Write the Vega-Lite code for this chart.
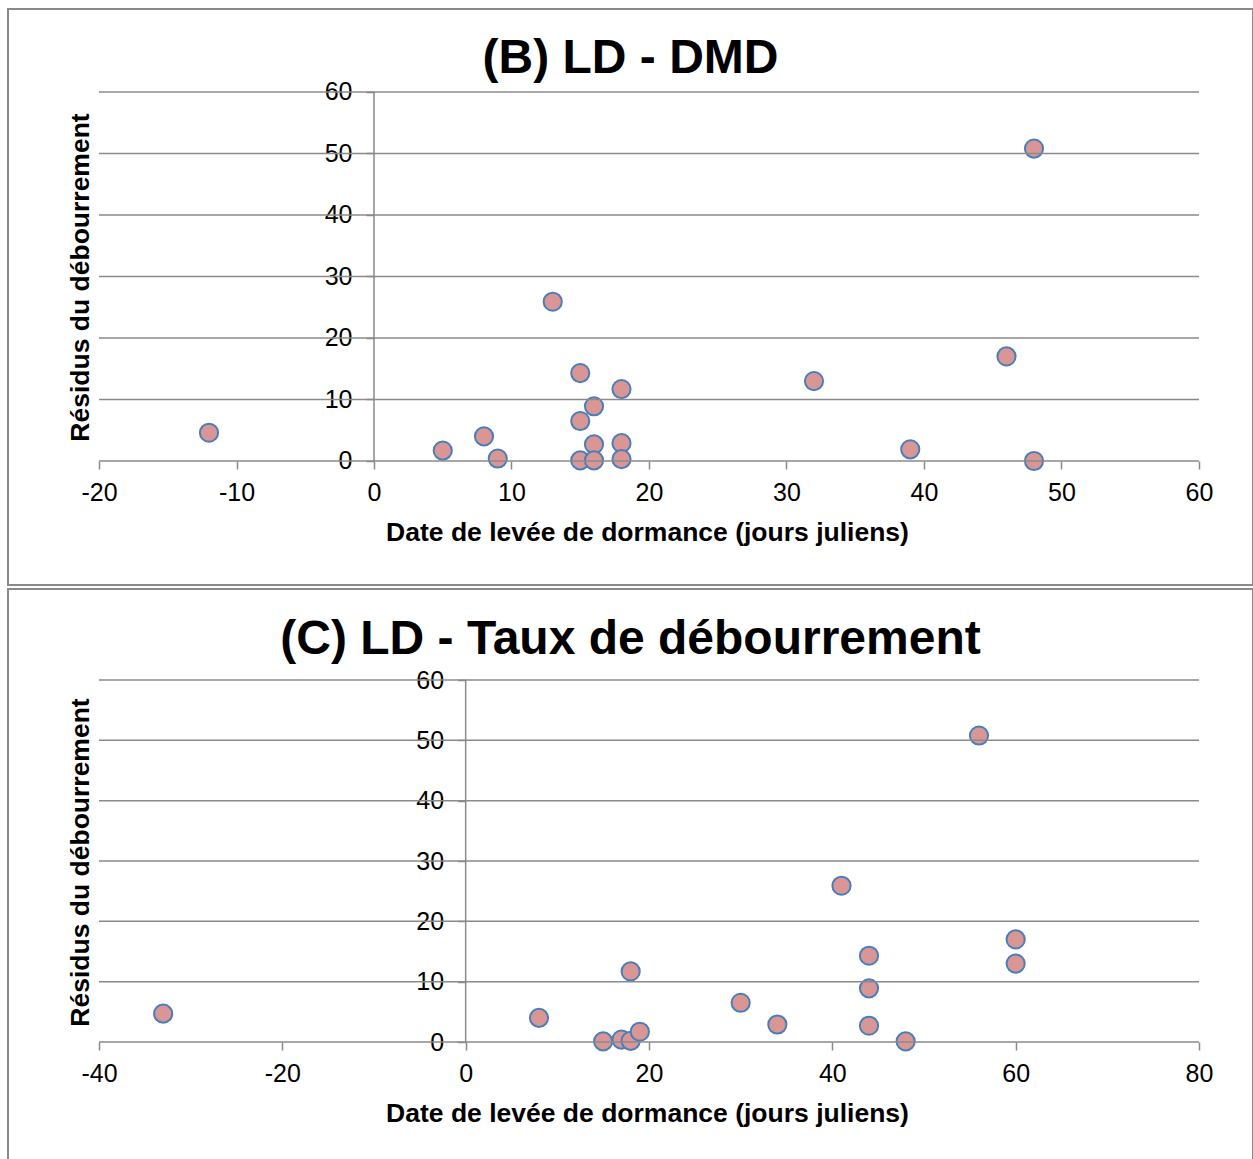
{
  "$schema": "https://vega.github.io/schema/vega-lite/v6.json",
  "background": "white",
  "padding": {"left": 7, "top": 8, "right": 0, "bottom": 0},
  "spacing": 2,
  "config": {
    "font": "Liberation Sans",
    "view": {"stroke": "#8a8a8a", "strokeWidth": 2},
    "axis": {
      "labelFont": "Liberation Sans",
      "titleFont": "Liberation Sans",
      "labelColor": "black",
      "titleColor": "black",
      "labelFontSize": 25,
      "titleFontSize": 26.5,
      "titleFontWeight": "bold",
      "tickColor": "#8a8a8a",
      "tickWidth": 1.5,
      "tickSize": 8,
      "domain": false,
      "grid": false,
      "labelFlush": false,
      "labelOverlap": false,
      "labelBound": false
    },
    "title": {"font": "Liberation Sans", "fontWeight": "bold", "color": "black"}
  },
  "datasets": {
    "grille": [{"v": 0}, {"v": 10}, {"v": 20}, {"v": 30}, {"v": 40}, {"v": 50}, {"v": 60}],
    "ldDmd": [
      {"date": -12, "residu": 4.6},
      {"date": 5, "residu": 1.7},
      {"date": 8, "residu": 4.0},
      {"date": 9, "residu": 0.4},
      {"date": 13, "residu": 25.9},
      {"date": 15, "residu": 14.3},
      {"date": 15, "residu": 6.5},
      {"date": 15, "residu": 0.1},
      {"date": 16, "residu": 8.9},
      {"date": 16, "residu": 2.7},
      {"date": 16, "residu": 0.1},
      {"date": 18, "residu": 11.7},
      {"date": 18, "residu": 2.9},
      {"date": 18, "residu": 0.3},
      {"date": 32, "residu": 13.0},
      {"date": 39, "residu": 1.9},
      {"date": 46, "residu": 17.0},
      {"date": 48, "residu": 50.8},
      {"date": 48, "residu": 0.0}
    ],
    "ldTaux": [
      {"date": -33, "residu": 4.7},
      {"date": 8, "residu": 4.0},
      {"date": 15, "residu": 0.1},
      {"date": 17, "residu": 0.4},
      {"date": 18, "residu": 11.7},
      {"date": 18, "residu": 0.2},
      {"date": 19, "residu": 1.7},
      {"date": 30, "residu": 6.5},
      {"date": 34, "residu": 2.9},
      {"date": 41, "residu": 25.9},
      {"date": 44, "residu": 14.3},
      {"date": 44, "residu": 8.9},
      {"date": 44, "residu": 2.7},
      {"date": 48, "residu": 0.1},
      {"date": 56, "residu": 50.8},
      {"date": 60, "residu": 17.0},
      {"date": 60, "residu": 13.0}
    ]
  },
  "vconcat": [
    {
      "width": 1245,
      "height": 576,
      "title": {"text": "(B) LD - DMD", "fontSize": 48, "anchor": "middle", "frame": "group", "baseline": "alphabetic", "offset": -112},
      "layer": [
        {
          "data": {"name": "ldDmd"},
          "mark": {"type": "circle", "size": 330, "fill": "#d99694", "fillOpacity": 1, "stroke": "#4a7ebb", "strokeWidth": 2, "opacity": 1},
          "encoding": {
            "x": {
              "field": "date", "type": "quantitative",
              "scale": {"domain": [-26.6182, 63.9273], "nice": false, "zero": false},
              "axis": {
                "title": "Date de levée de dormance (jours juliens)",
                "values": [-20, -10, 0, 10, 20, 30, 40, 50, 60],
                "labelExpr": "'' + datum.value",
                "offset": -124,
                "labelPadding": 11,
                "titleX": 639, "titleY": 79, "titleAlign": "center", "titleBaseline": "alphabetic"
              }
            },
            "y": {
              "field": "residu", "type": "quantitative",
              "scale": {"domain": [-20.1626, 73.4959], "nice": false, "zero": false},
              "axis": {
                "title": "Résidus du débourrement",
                "values": [0, 10, 20, 30, 40, 50, 60],
                "offset": -366,
                "labelPadding": 14,
                "titleAngle": -90,
                "titleX": -286, "titleY": 268, "titleAlign": "center", "titleBaseline": "alphabetic"
              }
            }
          }
        },
        {
          "data": {"name": "grille"},
          "mark": {"type": "rule", "color": "#8a8a8a", "strokeWidth": 1.5, "zindex": -1},
          "encoding": {
            "y": {"field": "v", "type": "quantitative"},
            "x": {"datum": -20, "type": "quantitative"},
            "x2": {"datum": 60}
          }
        },
        {
          "data": {"values": [{}]},
          "mark": {"type": "rule", "color": "#8a8a8a", "strokeWidth": 1.5, "zindex": -1},
          "encoding": {
            "x": {"datum": 0, "type": "quantitative"},
            "y": {"datum": 0, "type": "quantitative"},
            "y2": {"datum": 60}
          }
        }
      ]
    },
    {
      "width": 1245,
      "height": 571,
      "title": {"text": "(C) LD - Taux de débourrement", "fontSize": 48, "anchor": "middle", "frame": "group", "baseline": "alphabetic", "offset": -113},
      "layer": [
        {
          "data": {"name": "ldTaux"},
          "mark": {"type": "circle", "size": 330, "fill": "#d99694", "fillOpacity": 1, "stroke": "#4a7ebb", "strokeWidth": 2, "opacity": 1},
          "encoding": {
            "x": {
              "field": "date", "type": "quantitative",
              "scale": {"domain": [-49.927, 85.891], "nice": false, "zero": false},
              "axis": {
                "title": "Date de levée de dormance (jours juliens)",
                "values": [-40, -20, 0, 20, 40, 60, 80],
                "labelExpr": "'' + datum.value",
                "offset": -118,
                "labelPadding": 11,
                "titleX": 639, "titleY": 79, "titleAlign": "center", "titleBaseline": "alphabetic"
              }
            },
            "y": {
              "field": "residu", "type": "quantitative",
              "scale": {"domain": [-19.558, 75.083], "nice": false, "zero": false},
              "axis": {
                "title": "Résidus du débourrement",
                "values": [0, 10, 20, 30, 40, 50, 60],
                "offset": -457.67,
                "labelPadding": 14,
                "titleAngle": -90,
                "titleX": -377.67, "titleY": 273, "titleAlign": "center", "titleBaseline": "alphabetic"
              }
            }
          }
        },
        {
          "data": {"name": "grille"},
          "mark": {"type": "rule", "color": "#8a8a8a", "strokeWidth": 1.5, "zindex": -1},
          "encoding": {
            "y": {"field": "v", "type": "quantitative"},
            "x": {"datum": -40, "type": "quantitative"},
            "x2": {"datum": 80}
          }
        },
        {
          "data": {"values": [{}]},
          "mark": {"type": "rule", "color": "#8a8a8a", "strokeWidth": 1.5, "zindex": -1},
          "encoding": {
            "x": {"datum": 0, "type": "quantitative"},
            "y": {"datum": 0, "type": "quantitative"},
            "y2": {"datum": 60}
          }
        }
      ]
    }
  ]
}
